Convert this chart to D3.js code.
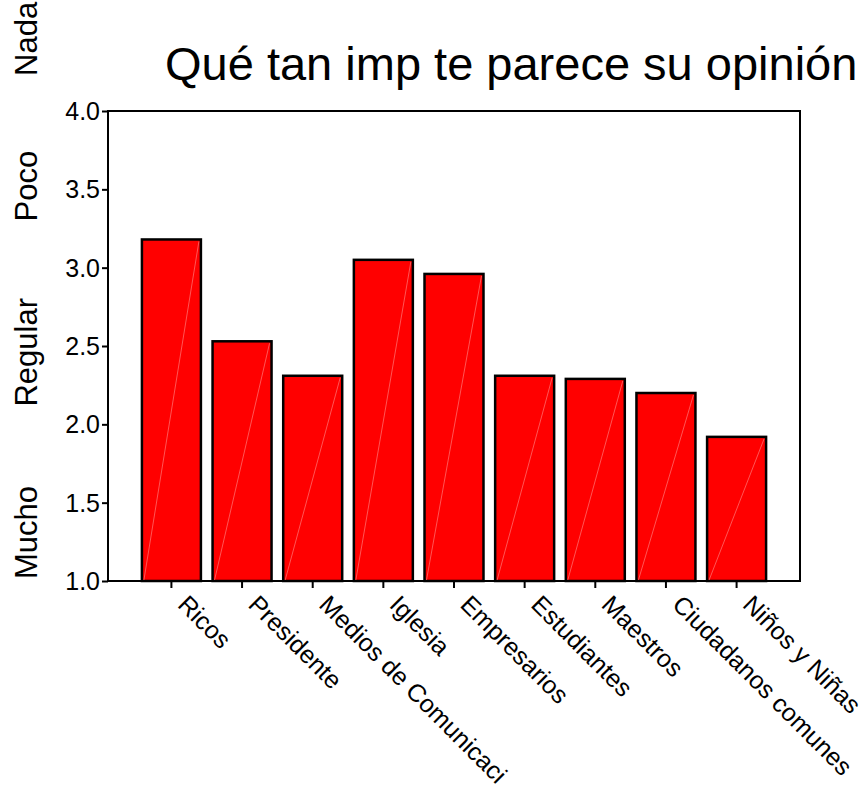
<!DOCTYPE html>
<html><head><meta charset="utf-8">
<script src="https://cdn.jsdelivr.net/npm/d3@7"></script>
<style>body{margin:0;background:#fff}svg{display:block}text{font-family:"Liberation Sans",Arial,sans-serif;fill:#000}</style>
</head><body>
<svg id="c" width="867" height="796"></svg>
<script>
const categories = ["Ricos","Presidente","Medios de Comunicaci","Iglesia","Empresarios","Estudiantes","Maestros","Ciudadanos comunes","Niños y Niñas"];
const values = [3.18, 2.53, 2.31, 3.05, 2.96, 2.31, 2.29, 2.20, 1.92];
const yTicks = [1.0, 1.5, 2.0, 2.5, 3.0, 3.5, 4.0];
const scaleLabels = ["Mucho","Regular","Poco","Nada"];
const scaleLabelPos = [1.31, 2.46, 3.52, 4.46];
const title = "Qué tan imp te parece su opinión";

const svg = d3.select("#c");
const L = 108, R = 800, T = 111, B = 581;
const y = d3.scaleLinear().domain([1, 4]).range([B, T]);
const x = d3.scaleBand().domain(categories).range([L, R]).paddingInner(0.165).paddingOuter(0.48);

// bars
const g = svg.append("g");
g.selectAll("rect.bar").data(values).join("rect")
  .attr("class","bar")
  .attr("x", (d,i) => x(categories[i]))
  .attr("y", d => y(d))
  .attr("width", x.bandwidth())
  .attr("height", d => y(1) - y(d))
  .attr("fill", "#ff0000")
  .attr("stroke", "#000").attr("stroke-width", 2.5);
g.selectAll("line.diag").data(values).join("line")
  .attr("class","diag")
  .attr("x1", (d,i) => x(categories[i]) + 2)
  .attr("y1", y(1) - 1)
  .attr("x2", (d,i) => x(categories[i]) + x.bandwidth() - 2)
  .attr("y2", d => y(d) + 2)
  .attr("stroke", "#ff7a7a").attr("stroke-width", 0.7);

// frame
svg.append("rect").attr("x", L).attr("y", T).attr("width", R-L).attr("height", B-T)
  .attr("fill","none").attr("stroke","#000").attr("stroke-width",2);

// y axis
const ya = svg.append("g").attr("transform", `translate(${L},0)`)
  .call(d3.axisLeft(y).tickValues(yTicks).tickFormat(d3.format(".1f")).tickSize(6).tickPadding(2));
ya.select(".domain").remove();
ya.selectAll("line").attr("stroke","#000").attr("stroke-width",2);
ya.selectAll("text").attr("font-size", 25).attr("font-family","Liberation Sans, Arial").attr("dy","0.34em");

// x axis
const xa = svg.append("g").attr("transform", `translate(0,${B})`)
  .call(d3.axisBottom(x).tickSize(7).tickFormat(d => d));
xa.select(".domain").remove();
xa.selectAll("line").attr("stroke","#000").attr("stroke-width",2);
xa.selectAll("text")
  .attr("font-size", 25).attr("font-family","Liberation Sans, Arial")
  .attr("text-anchor","start")
  .attr("dy", null).attr("y", 0)
  .attr("transform","translate(5,25) rotate(45)");

// scale labels on left
svg.selectAll("text.sl").data(scaleLabels).join("text")
  .attr("class","sl")
  .attr("font-size", 31)
  .attr("text-anchor","middle")
  .attr("transform", (d,i) => `translate(37,${y(scaleLabelPos[i])}) rotate(-90)`)
  .text(d => d);

// title
svg.append("text").attr("x", 165).attr("y", 80).attr("font-size", 47).text(title);
</script>
</body></html>
